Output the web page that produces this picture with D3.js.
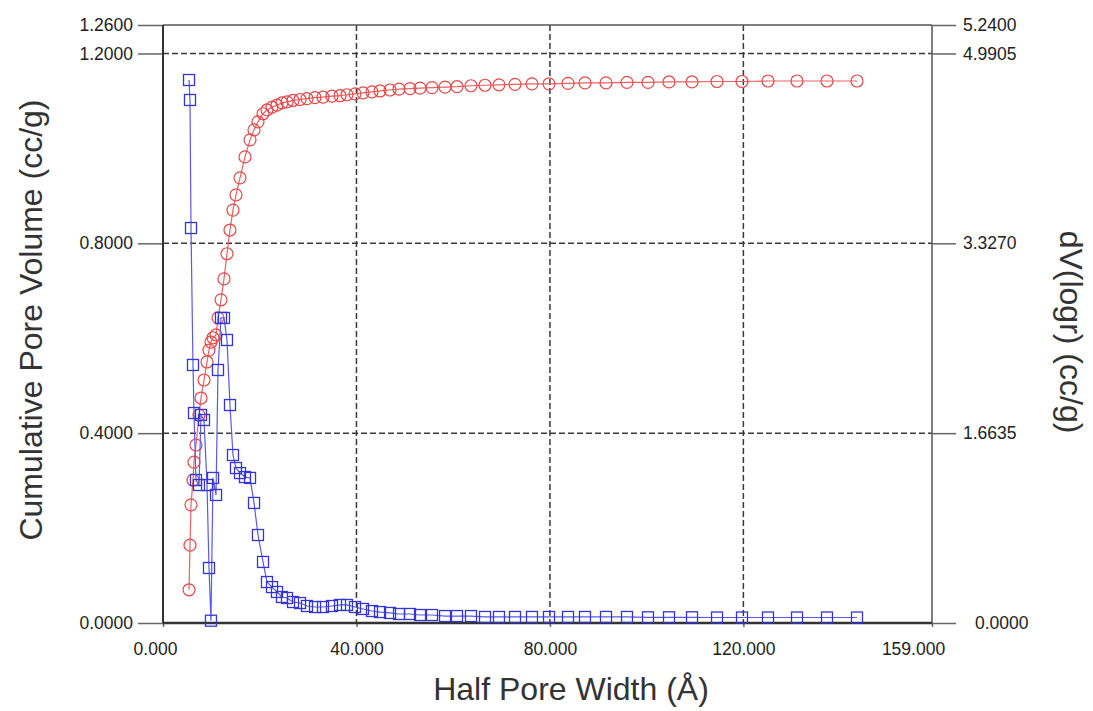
<!DOCTYPE html>
<html>
<head>
<meta charset="utf-8">
<script src="https://cdn.jsdelivr.net/npm/d3@7/dist/d3.min.js"></script>
<style>
  html, body { margin: 0; padding: 0; background: #fff; }
  svg { display: block; font-family: "Liberation Sans", Arial, sans-serif; }
</style>
</head>
<body>
<svg id="chart" width="1093" height="711"></svg>
<script>
// ---- data ----
const halfPoreWidth = [5.38,5.58,5.79,6.20,6.41,6.82,7.44,7.86,8.48,9.10,9.51,9.92,10.34,10.96,11.37,11.99,12.61,13.23,13.85,14.47,15.09,15.92,16.95,17.99,18.82,19.64,20.68,
  21.50,22.54,23.57,24.60,25.64,26.88,28.33,29.77,31.43,33.08,34.94,36.60,38.04,
  39.70,41.35,43.21,44.87,46.94,48.80,51.07,53.14,55.62,58.31,60.79,63.68,66.58,69.47,72.78,76.29,79.81,83.74,87.25,91.60,95.94,100.28,104.62,109.38,114.55,119.72,125.09,131.09,137.29,143.49];
const cumulativeVolume = [0.070,0.164,0.249,0.301,0.339,0.375,0.438,0.474,0.512,0.550,0.575,0.592,0.601,0.607,0.643,0.681,0.725,0.778,0.828,0.870,0.902,0.938,0.982,1.018,1.039,1.056,1.073,
  1.081,1.087,1.091,1.096,1.098,1.101,1.103,1.105,1.107,1.108,1.110,1.111,1.113,
  1.115,1.117,1.119,1.121,1.123,1.125,1.126,1.127,1.128,1.129,1.130,1.132,1.133,1.134,1.135,1.136,1.136,1.137,1.138,1.138,1.139,1.139,1.140,1.140,1.141,1.141,1.142,1.142,1.142,1.142];
const dVlogr = [4.758,4.583,3.461,2.261,1.840,1.253,1.209,1.823,1.779,1.209,0.482,0.020,1.271,1.122,2.217,2.673,2.673,2.480,1.910,1.472,1.358,1.314,1.279,1.271,1.052,0.771,0.535,
  0.359,0.315,0.272,0.228,0.219,0.184,0.175,0.149,0.140,0.140,0.149,0.158,0.158,
  0.140,0.123,0.105,0.096,0.088,0.079,0.079,0.070,0.070,0.061,0.061,0.061,0.053,0.053,0.053,0.053,0.053,0.053,0.053,0.053,0.053,0.050,0.050,0.050,0.048,0.048,0.048,0.048,0.048,0.048];

const xTicks = [0, 40, 80, 120, 159];
const xTickLabels = ["0.000", "40.000", "80.000", "120.000", "159.000"];
const yLeftTicks = [0, 0.4, 0.8, 1.2, 1.26];
const yLeftLabels = ["0.0000", "0.4000", "0.8000", "1.2000", "1.2600"];
const yRightTicks = [0, 1.6635, 3.3270, 4.9905, 5.24];
const yRightLabels = ["0.0000", "1.6635", "3.3270", "4.9905", "5.2400"];

const xTitle = "Half Pore Width (Å)";
const yLeftTitle = "Cumulative Pore Volume (cc/g)";
const yRightTitle = "dV(logr) (cc/g)";

// ---- layout ----
const L = 163, R = 932, T = 25, B = 623;
const svg = d3.select("#chart");

const x = d3.scaleLinear().domain([0, 159]).range([L, R]);
const yL = d3.scaleLinear().domain([0, 1.26]).range([B, T]);
const yR = d3.scaleLinear().domain([0, 5.24]).range([B, T]);

const gridColor = "#3a3a3a";

// grid lines (dashed)
const grid = svg.append("g");
grid.selectAll("line.h").data([0.4, 0.8, 1.2]).join("line")
  .attr("x1", L).attr("x2", R)
  .attr("y1", d => yL(d)).attr("y2", d => yL(d))
  .attr("stroke", gridColor).attr("stroke-width", 1.5).attr("stroke-dasharray", "6,3");
grid.selectAll("line.v").data([40, 80, 120]).join("line")
  .attr("x1", d => x(d)).attr("x2", d => x(d))
  .attr("y1", T).attr("y2", B)
  .attr("stroke", gridColor).attr("stroke-width", 1.5).attr("stroke-dasharray", "6,3");

// frame: top and right lighter, left and bottom darker
svg.append("line").attr("x1", L).attr("x2", R).attr("y1", T).attr("y2", T).attr("stroke", "#555").attr("stroke-width", 1.5);
svg.append("line").attr("x1", R).attr("x2", R).attr("y1", T).attr("y2", B).attr("stroke", "#555").attr("stroke-width", 1.5);

// left axis
const axL = svg.append("g").attr("transform", `translate(${L},0)`)
  .call(d3.axisLeft(yL).tickValues(yLeftTicks).tickSize(25).tickPadding(5)
    .tickFormat((d, i) => yLeftLabels[i]));
// right axis
const axR = svg.append("g").attr("transform", `translate(${R},0)`)
  .call(d3.axisRight(yR).tickValues(yRightTicks).tickSize(24).tickPadding(7)
    .tickFormat((d, i) => yRightLabels[i]));
// bottom axis
const axB = svg.append("g").attr("transform", `translate(0,${B})`)
  .call(d3.axisBottom(x).tickValues(xTicks).tickSize(4).tickPadding(16)
    .tickFormat((d, i) => xTickLabels[i]));

[axL, axR, axB].forEach(g => {
  g.select(".domain").remove();
  g.selectAll(".tick line").attr("stroke", "#666").attr("stroke-width", 1.5);
  g.selectAll(".tick text").attr("fill", "#222").attr("font-size", 17.5)
    .attr("font-family", "'Liberation Sans', Arial, sans-serif");
});
axB.selectAll(".tick text").attr("dy", "0.71em");
axB.selectAll(".tick text").filter((d, i) => i === 0).attr("dx", -8);
axB.selectAll(".tick text").filter((d, i) => i === xTicks.length - 1).attr("dx", -19);
axR.selectAll(".tick text").filter((d, i) => i === 0).attr("dx", 12);

// left & bottom axis lines (darker)
svg.append("line").attr("x1", L).attr("x2", L).attr("y1", T).attr("y2", B).attr("stroke", "#333").attr("stroke-width", 2);
svg.append("line").attr("x1", L).attr("x2", R).attr("y1", B).attr("y2", B).attr("stroke", "#333").attr("stroke-width", 2.5);

// series
const pts = halfPoreWidth.map((w, i) => ({ w, c: cumulativeVolume[i], d: dVlogr[i] }));

const redStroke = "#e84848", blueStroke = "#3535d6";

svg.append("path").datum(pts)
  .attr("d", d3.line().x(p => x(p.w)).y(p => yL(p.c)))
  .attr("fill", "none").attr("stroke", "#f06060").attr("stroke-width", 1.2);
svg.append("g").selectAll("circle").data(pts).join("circle")
  .attr("cx", p => x(p.w)).attr("cy", p => yL(p.c)).attr("r", 6)
  .attr("fill", "none").attr("stroke", redStroke).attr("stroke-width", 1.2);

svg.append("path").datum(pts)
  .attr("d", d3.line().x(p => x(p.w)).y(p => yR(p.d)))
  .attr("fill", "none").attr("stroke", "#5a5ae8").attr("stroke-width", 1.2);
const sq = 11;
svg.append("g").selectAll("rect").data(pts).join("rect")
  .attr("x", p => x(p.w) - sq / 2).attr("y", p => yR(p.d) - sq / 2)
  .attr("width", sq).attr("height", sq)
  .attr("fill", "none").attr("stroke", blueStroke).attr("stroke-width", 1.3);

// titles
svg.append("text").attr("x", 571).attr("y", 700).attr("text-anchor", "middle")
  .attr("font-size", 32).attr("fill", "#333").text(xTitle);
svg.append("text").attr("transform", "translate(42,320) rotate(-90)").attr("text-anchor", "middle")
  .attr("font-size", 32).attr("fill", "#333").text(yLeftTitle);
svg.append("text").attr("transform", "translate(1060,332) rotate(90)").attr("text-anchor", "middle")
  .attr("font-size", 32).attr("fill", "#333").text(yRightTitle);
</script>
</body>
</html>
